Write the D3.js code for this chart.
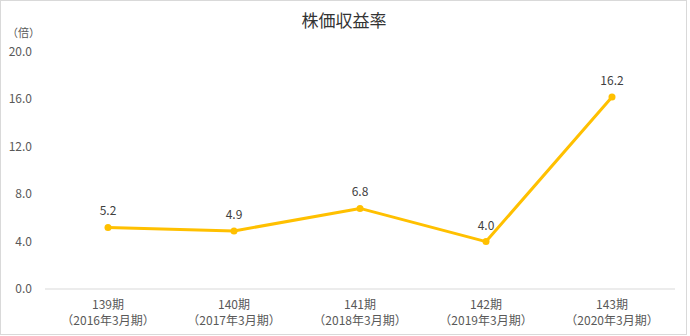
<!DOCTYPE html>
<html>
<head>
<meta charset="utf-8">
<script src="https://cdn.jsdelivr.net/npm/d3@7"></script>
<style>
  body { margin: 0; background: #fff; }
  svg text { font-family: "Noto Sans CJK JP", "Noto Sans", sans-serif; }
</style>
</head>
<body>
<div id="chart"></div>
<script>
// data
var periods = ["139期", "140期", "141期", "142期", "143期"];
var fiscalYears = ["（2016年3月期）", "（2017年3月期）", "（2018年3月期）", "（2019年3月期）", "（2020年3月期）"];
var perValues = [5.2, 4.9, 6.8, 4.0, 16.2];
var yTicks = [0, 4, 8, 12, 16, 20];

var width = 690, height = 336;
var margin = { top: 52, right: 15, bottom: 47, left: 45 };

var svg = d3.select("#chart")
  .append("svg")
  .attr("width", width)
  .attr("height", height);

// outer border
svg.append("rect")
  .attr("x", 0.5).attr("y", 0.5)
  .attr("width", width - 4).attr("height", height - 2)
  .attr("fill", "#fff")
  .attr("stroke", "#d9d9d9");

var x = d3.scaleBand()
  .domain(periods)
  .range([margin.left, width - margin.right]);

var y = d3.scaleLinear()
  .domain([0, 20])
  .range([height - margin.bottom, margin.top]);

// title
svg.append("text")
  .attr("x", 344).attr("y", 27)
  .attr("text-anchor", "middle")
  .style("font-size", "17px")
  .style("fill", "#333")
  .text("株価収益率");

// unit
svg.append("text")
  .attr("x", 7).attr("y", 37)
  .style("font-size", "11px")
  .style("fill", "#595959")
  .text("（倍）");

// y axis labels
svg.selectAll(".ylab")
  .data(yTicks)
  .enter().append("text")
  .attr("class", "ylab")
  .attr("x", 32)
  .attr("y", function (d) { return y(d) + 4; })
  .attr("text-anchor", "end")
  .style("font-size", "12px")
  .style("fill", "#595959")
  .text(function (d) { return d.toFixed(1); });

// baseline
svg.append("line")
  .attr("x1", x.range()[0]).attr("x2", x.range()[1])
  .attr("y1", y(0)).attr("y2", y(0))
  .attr("stroke", "#d9d9d9")
  .attr("stroke-width", 1);

// x labels, two rows
svg.selectAll(".xlab1")
  .data(periods)
  .enter().append("text")
  .attr("class", "xlab1")
  .attr("x", function (d) { return x(d) + x.bandwidth() / 2; })
  .attr("y", y(0) + 20)
  .attr("text-anchor", "middle")
  .style("font-size", "12px")
  .style("fill", "#595959")
  .text(function (d) { return d; });

svg.selectAll(".xlab2")
  .data(periods)
  .enter().append("text")
  .attr("class", "xlab2")
  .attr("x", function (d) { return x(d) + x.bandwidth() / 2; })
  .attr("y", y(0) + 36)
  .attr("text-anchor", "middle")
  .style("font-size", "12px")
  .style("fill", "#595959")
  .text(function (d, i) { return fiscalYears[i]; });

var pts = periods.map(function (p, i) { return { p: p, v: perValues[i] }; });

var line = d3.line()
  .x(function (d) { return x(d.p) + x.bandwidth() / 2; })
  .y(function (d) { return y(d.v); });

svg.append("path")
  .datum(pts)
  .attr("d", line)
  .attr("fill", "none")
  .attr("stroke", "#ffc000")
  .attr("stroke-width", 3)
  .attr("stroke-linejoin", "round");

svg.selectAll(".dot")
  .data(pts)
  .enter().append("circle")
  .attr("class", "dot")
  .attr("cx", function (d) { return x(d.p) + x.bandwidth() / 2; })
  .attr("cy", function (d) { return y(d.v); })
  .attr("r", 3.5)
  .attr("fill", "#ffc000");

svg.selectAll(".dlab")
  .data(pts)
  .enter().append("text")
  .attr("class", "dlab")
  .attr("x", function (d) { return x(d.p) + x.bandwidth() / 2; })
  .attr("y", function (d) { return y(d.v) - 12; })
  .attr("text-anchor", "middle")
  .style("font-size", "12px")
  .style("fill", "#404040")
  .text(function (d) { return d.v.toFixed(1); });
</script>
</body>
</html>
